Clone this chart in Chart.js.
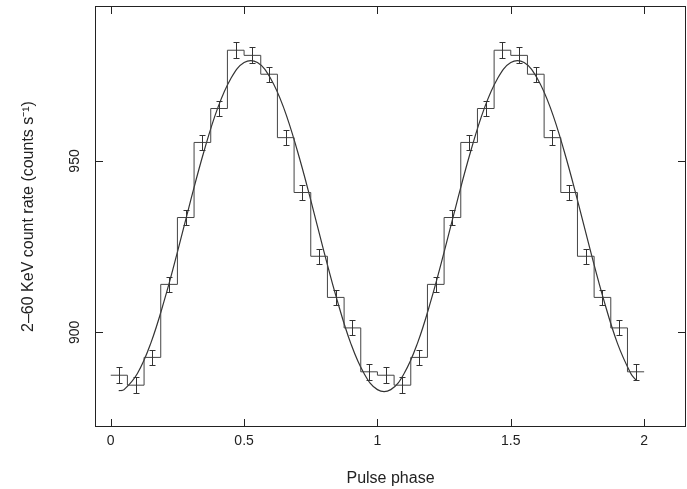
<!DOCTYPE html>
<html>
<head>
<meta charset="utf-8">
<script src="https://cdn.jsdelivr.net/npm/chart.js@4.4.0/dist/chart.umd.min.js"></script>
<style>
  html, body { margin: 0; padding: 0; background: #fff; }
  #wrap { width: 687px; height: 489px; }
</style>
</head>
<body>
<div id="wrap"><canvas id="pulseChart"></canvas></div>
<script>
// one 16-bin pulse profile (counts/s); the figure shows it twice, phase 0-2
const profileRate = [887.5, 884.6, 892.7, 914.0, 933.5, 955.4, 965.3, 982.3,
                     980.8, 975.3, 956.8, 940.8, 922.2, 910.2, 901.3, 888.5];
const profileErr = [2.3, 2.3, 2.2, 2.2, 2.2, 2.2, 2.2, 2.3,
                    2.3, 2.2, 2.2, 2.2, 2.2, 2.2, 2.2, 2.3];
const binWidth = 0.0625;
const cycles = 2;

// smooth fitted curve
const curvePhase = [0.03, 0.05, 0.10, 0.15, 0.20, 0.25, 0.30, 0.35, 0.40, 0.45,
                    0.50, 0.55, 0.60, 0.65, 0.70, 0.75, 0.80, 0.85, 0.90, 0.95,
                    1.00, 1.05, 1.10, 1.15, 1.20, 1.25, 1.30, 1.35, 1.40, 1.45,
                    1.50, 1.55, 1.60, 1.65, 1.70, 1.75, 1.80, 1.85, 1.90, 1.95, 1.97];
const curveRate = [883.0, 883.3, 888.0, 896.8, 909.1, 923.4, 938.6, 952.9, 965.2, 974.0,
                   978.7, 978.7, 974.0, 965.2, 952.9, 938.6, 923.4, 909.1, 896.8, 888.0,
                   883.3, 883.3, 888.0, 896.8, 909.1, 923.4, 938.6, 952.9, 965.2, 974.0,
                   978.7, 978.7, 974.0, 965.2, 952.9, 938.6, 923.4, 909.1, 896.8, 888.0, 886.0];

const xTicks = [0, 0.5, 1, 1.5, 2];
const yTicks = [900, 950];

const rates = [];
const errs = [];
for (let c = 0; c < cycles; c++) {
  rates.push(...profileRate);
  errs.push(...profileErr);
}

// histogram: points at bin left edges, last one closes the final bin
const stepPoints = rates.map((r, i) => ({ x: i * binWidth, y: r }));
stepPoints.push({ x: rates.length * binWidth, y: rates[rates.length - 1] });

const curvePoints = curvePhase.map((p, i) => ({ x: p, y: curveRate[i] }));

// frame with inward ticks + error bars
const framePlugin = {
  id: 'frame',
  afterDatasetsDraw(chart) {
    const { ctx, chartArea: a, scales: { x, y } } = chart;
    ctx.save();
    ctx.strokeStyle = '#333';
    ctx.lineWidth = 1;

    const seg = (x1, y1, x2, y2) => {
      ctx.beginPath();
      ctx.moveTo(x1, y1);
      ctx.lineTo(x2, y2);
      ctx.stroke();
    };

    rates.forEach((r, i) => {
      const px = Math.round(x.getPixelForValue((i + 0.5) * binWidth)) + 0.5;
      const top = Math.round(y.getPixelForValue(r + errs[i])) + 0.5;
      const bot = Math.round(y.getPixelForValue(r - errs[i])) + 0.5;
      seg(px, top, px, bot);
      seg(px - 3, top, px + 3, top);
      seg(px - 3, bot, px + 3, bot);
    });

    ctx.strokeStyle = '#222';
    ctx.strokeRect(a.left + 0.5, a.top + 0.5, a.right - a.left - 1, a.bottom - a.top - 1);
    const len = 8;
    xTicks.forEach(v => {
      const px = Math.round(x.getPixelForValue(v)) + 0.5;
      seg(px, a.bottom, px, a.bottom - len);
      seg(px, a.top, px, a.top + len);
    });
    yTicks.forEach(v => {
      const py = Math.round(y.getPixelForValue(v)) + 0.5;
      seg(a.left, py, a.left + len, py);
      seg(a.right, py, a.right - len, py);
    });
    ctx.restore();
  }
};

Chart.defaults.font.family = '"Liberation Sans", Arial, sans-serif';
Chart.defaults.color = '#222';

new Chart(document.getElementById('pulseChart'), {
  type: 'line',
  data: {
    datasets: [
      {
        label: 'Profile',
        data: stepPoints,
        stepped: 'before',
        borderColor: '#444',
        borderWidth: 1,
        pointRadius: 0,
        fill: false
      },
      {
        label: 'Fit',
        data: curvePoints,
        borderColor: '#333',
        borderWidth: 1.2,
        tension: 0.4,
        pointRadius: 0,
        fill: false
      }
    ]
  },
  options: {
    responsive: true,
    maintainAspectRatio: false,
    animation: false,
    layout: { padding: { top: 6, right: 1, left: 0, bottom: 0 } },
    plugins: {
      legend: { display: false },
      tooltip: { enabled: false }
    },
    scales: {
      x: {
        type: 'linear',
        min: -0.059,
        max: 2.157,
        afterBuildTicks: s => { s.ticks = xTicks.map(v => ({ value: v })); },
        afterFit: s => { s.height = 62; s.paddingLeft = 0; s.paddingRight = 0; },
        grid: { display: false, drawTicks: false },
        border: { display: false },
        ticks: { padding: 6, font: { size: 14 }, callback: v => String(v) },
        title: {
          display: true,
          text: 'Pulse phase',
          font: { size: 16 },
          padding: { top: 0, bottom: 1 }
        }
      },
      y: {
        min: 872.4,
        max: 995.2,
        afterBuildTicks: s => { s.ticks = yTicks.map(v => ({ value: v })); },
        // rotated labels would otherwise push the plot area down
        afterFit: s => { s.width = 95; s.paddingTop = 0; s.paddingBottom = 0; },
        grid: { display: false, drawTicks: false },
        border: { display: false },
        ticks: { minRotation: 90, maxRotation: 90, crossAlign: 'center', padding: 8, font: { size: 14 }, callback: v => String(v) },
        title: {
          display: true,
          text: '2–60 KeV count rate (counts s⁻¹)',
          font: { size: 16 },
          padding: { top: 19, bottom: 0 }
        }
      }
    }
  },
  plugins: [framePlugin]
});
</script>
</body>
</html>
